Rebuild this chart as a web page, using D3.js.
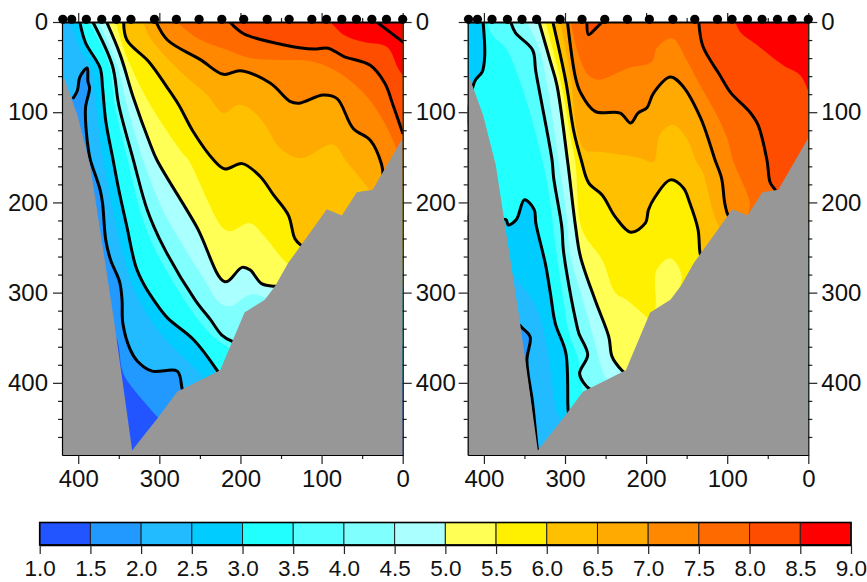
<!DOCTYPE html>
<html>
<head>
<meta charset="utf-8">
<script src="https://d3js.org/d3.v7.min.js"></script>
<style>
  body { margin: 0; background: #fff; }
  text { font-family: "Liberation Sans", Arial, sans-serif; fill: #111; }
</style>
</head>
<body>
<svg id="chart" width="867" height="582"></svg>
<script>
// colour classes of the section, shared by both panels and the bar
const bandEdges = [1.0, 1.5, 2.0, 2.5, 3.0, 3.5, 4.0, 4.5, 5.0, 5.5, 6.0, 6.5, 7.0, 7.5, 8.0, 8.5, 9.0];
const bandColors = ["#2255ff", "#2299ff", "#22bbff", "#00ccff", "#22ffff", "#55ffff", "#80ffff", "#aaffff",
  "#ffff55", "#fff000", "#ffc000", "#ffaa00", "#ff8800", "#ff6a00", "#ff4d00", "#ff0000"];

// stations along the section (km) and the sea floor (km, m)
const stations = [419, 408, 390, 371, 353, 335, 306, 279, 251, 223, 196, 167, 140, 112, 94, 75, 57, 38, 20, 0];
const seaFloor = [[420, 56], [401, 103], [385.5, 158], [356, 330], [333.5, 475], [325, 465], [302, 439], [278, 410],
  [225, 386], [195, 322], [170, 308], [157, 292.5], [141, 267], [93.5, 207.5], [75, 214.6], [56.6, 188.7], [37, 186], [0, 128.5]];

// left section, isolines as [km, m]
const left15 = [[360, 340], [352, 352], [346, 385], [340, 397], [302, 438], [295, 445]];
const left20 = [[406, 84], [401, 76], [398, 61], [389, 51], [388, 66], [386, 73], [391, 95], [390, 122], [387, 144], [385, 153], [373, 186], [370, 201], [366, 242], [360, 264], [349, 288], [346, 308], [345, 334], [336, 363], [327, 376], [309, 387], [278, 387], [272, 406], [270, 412]];
const left25 = [[409, 0], [400, 25], [384, 53], [379, 86], [373, 131], [365, 175], [355, 219], [343, 264], [331, 297], [311, 330], [286, 358], [249, 391], [245, 400]];
const left30 = [[398, 0], [391, 23], [373, 51], [370, 73], [366, 110], [357, 153], [350, 186], [340, 227], [329, 271], [319, 291], [307, 308], [290, 328], [258, 352], [229, 386], [225, 392]];
const left35 = [[387, 0], [372, 25], [361, 50], [355, 92], [339, 153], [324, 208], [307, 249], [281, 291], [252, 330], [232, 350], [212, 362]];
const left40 = [[382, 0], [358, 48], [350, 92], [332, 153], [315, 208], [295, 249], [256, 308], [237, 330], [223, 347], [210, 354], [200, 356]];
const left45 = [[375, 0], [352, 48], [340, 92], [320, 153], [296, 208], [270, 249], [245, 285], [225, 312], [212, 315], [188, 302], [168, 306], [160, 310]];
const left50 = [[365, 0], [348, 37], [332, 84], [311, 136], [303, 153], [254, 227], [219, 288], [198, 272], [188, 275], [174, 290], [157, 293], [150, 293]];
const left55 = [[354, 0], [341, 37], [311, 92], [270, 147], [264, 153], [223, 227], [213, 232], [188, 223], [172, 236], [143, 267], [135, 270]];
const left60 = [[344, 0], [340, 20], [313, 44], [290, 73], [276, 92], [258, 122], [233, 153], [219, 163], [198, 157], [176, 171], [159, 192], [141, 214], [133, 240], [126, 247], [120, 250]];
const left65 = [[320, 0], [311, 18], [274, 55], [241, 81], [221, 101], [204, 92], [192, 94], [172, 111], [151, 140], [126, 151], [86, 136], [69, 155], [43, 184], [38, 192]];
const left70 = [[304, 0], [290, 20], [249, 42], [221, 58], [200, 54], [163, 68], [139, 88], [128, 90], [98, 81], [81, 85], [61, 118], [40, 131], [26, 158], [24, 172]];
const left75 = [[278, 0], [253, 18], [216, 31], [188, 40], [151, 42], [110, 44], [77, 57], [49, 78], [28, 103], [12, 131], [6, 145]];
const left80 = [[213, 0], [196, 13], [143, 26], [110, 30], [92, 29], [73, 38], [40, 48], [22, 68], [12, 92], [0, 123]];
const left85 = [[89, 0], [73, 14], [49, 22], [19, 28], [6, 51], [0, 59]];
const left90 = [[32, 0], [0, 22]];

// right section, the 3.0 isoline passes under the slope between its two arms
const right20 = [[356, 336], [353, 339], [343, 349], [347, 375], [340, 422], [334, 474], [333, 478]];
const right25 = [[368, 276], [336, 315], [322, 363], [310, 432], [304, 442]];
const right30 = [[401, 0], [399, 37], [402, 55], [412, 67], [419, 219], [373, 219], [370, 225], [360, 219], [350, 197], [338, 208], [336, 223], [324, 269], [318, 301], [312, 334], [299, 367], [296, 432], [294, 440]];
const right35 = [[396, 0], [390, 14], [373, 29], [357, 62], [345, 95], [328, 153], [320, 189], [312, 245], [302, 308], [295, 345], [283, 375], [278, 410], [272, 412]];
const right40 = [[367, 0], [361, 12], [340, 31], [336, 55], [316, 153], [314, 173], [304, 227], [302, 253], [292, 308], [287, 330], [283, 345], [272, 369], [282, 390], [271, 406], [266, 408]];
const right45 = [[347, 0], [332, 29], [322, 70], [308, 153], [299, 208], [293, 260], [277, 311], [263, 356], [252, 391], [246, 398]];
const right50 = [[332, 0], [318, 44], [310, 70], [297, 153], [287, 227], [281, 260], [263, 308], [246, 349], [242, 371], [230, 386], [224, 390]];
const right55 = [[324, 0], [310, 48], [302, 81], [293, 129], [287, 158], [279, 230], [254, 264], [238, 300], [224, 308], [199, 328], [196, 332]];
const right55Patch = [[189, 325], [188, 311], [187, 275], [170, 262], [156, 282], [166, 308], [170, 315], [189, 325]];
const right60 = [[315, 0], [299, 66], [289, 122], [280, 153], [271, 178], [254, 192], [238, 216], [219, 233], [201, 223], [197, 208], [189, 194], [170, 175], [154, 184], [146, 201], [136, 230], [133, 258], [130, 262]];
const right65 = [[306, 0], [293, 62], [285, 121], [275, 142], [256, 144], [232, 147], [207, 151], [191, 155], [183, 125], [167, 114], [150, 129], [139, 153], [130, 167], [117, 212], [111, 225], [108, 232]];
const right70 = [[297, 0], [287, 62], [281, 78], [263, 99], [232, 101], [219, 112], [210, 101], [199, 95], [191, 79], [170, 61], [154, 72], [133, 106], [121, 136], [115, 153], [107, 173], [103, 201], [99, 214], [95, 218]];
const right75 = [[293, 0], [283, 37], [271, 59], [258, 64], [222, 51], [193, 44], [187, 29], [168, 18], [150, 42], [136, 66], [113, 103], [100, 129], [93, 153], [72, 201], [74, 214], [72, 220]];
const right80 = [[135, 0], [130, 27], [109, 59], [96, 78], [72, 100], [62, 114], [51, 153], [47, 178], [41, 186], [38, 192]];
const right80Top = [[273, 0], [271, 14], [262, 7], [254, 0]];
const right85 = [[90, 0], [84, 11], [64, 25], [31, 48], [10, 59], [0, 77]];

// paint order matters, each class covers the one before it
const leftBands = [[1.5, left15], [2.0, left20], [2.5, left25], [3.0, left30], [3.5, left35], [4.0, left40], [4.5, left45], [5.0, left50],
  [5.5, left55], [6.0, left60], [6.5, left65], [7.0, left70], [7.5, left75], [8.0, left80], [8.5, left85]];
const leftLines = [left20, left30, left40, left50, left60, left70, left80, left90];
const rightBands = [[2.0, right20], [2.5, right25], [3.0, right30], [3.5, right35], [4.0, right40], [4.5, right45], [5.0, right50],
  [5.5, right55], [5.0, right55Patch], [6.0, right60], [6.5, right65], [7.0, right70], [7.5, right75], [8.0, right80], [8.0, right80Top], [8.5, right85]];
const rightLines = [right20, right30, right40, right50, right60, right70, right80, right80Top];

const distMajor = [400, 300, 200, 100, 0];
const distMinor = [350, 250, 150, 50];
const depthMajor = [0, 100, 200, 300, 400];
const depthMinor = d3.range(20, 480, 20).filter((d) => d % 100 !== 0);

const svg = d3.select("#chart");
const axisFont = 24;
const barFont = 22.5;
const plotTop = 22;
const plotBottom = 455;
const y = d3.scaleLinear().domain([0, 480]).range([plotTop, plotBottom]);
const barColor = d3.scaleThreshold().domain(bandEdges.slice(1, -1)).range(bandColors);
const smooth = d3.line().curve(d3.curveCatmullRom.alpha(0.5));

// the part of a class boundary that runs along or behind the plot edges
const closingPoints = (pts) => {
  const first = pts[0];
  const last = pts[pts.length - 1];
  if (last[1] === 0 || (first[0] === last[0] && first[1] === last[1])) return [];
  const tail = [[0, last[1]], [0, 0]];
  if (first[1] > 0) tail.push([420, 0], [420, first[1]]);
  return tail;
};

const styleAxis = (g, width, size = axisFont) => {
  g.selectAll("path.domain").attr("stroke", "#000").attr("stroke-width", width);
  g.selectAll(".tick line").attr("stroke", "#222").attr("stroke-width", 1.2);
  g.selectAll("text").attr("font-size", size).attr("font-family", null);
};

const renderPanel = (name, x0, x1, baseColor, bands, lines, sideLabels) => {
  const x = d3.scaleLinear().domain([420, 0]).range([x0, x1]);
  const toPx = (pts) => pts.map((p) => [x(p[0]), y(p[1])]);
  svg.append("clipPath").attr("id", `clip-${name}`)
    .append("rect").attr("x", x0).attr("y", plotTop).attr("width", x1 - x0).attr("height", plotBottom - plotTop);
  const g = svg.append("g").attr("clip-path", `url(#clip-${name})`);

  g.append("rect").attr("x", x0).attr("y", plotTop).attr("width", x1 - x0).attr("height", plotBottom - plotTop)
    .attr("fill", baseColor);
  g.selectAll("path.band").data(bands).enter().append("path")
    .attr("class", "band")
    .attr("fill", (d) => barColor(d[0]))
    .attr("d", (d) => smooth(toPx(d[1])) + toPx(closingPoints(d[1])).map((p) => `L${p[0]},${p[1]}`).join("") + "Z");
  g.selectAll("path.contour").data(lines).enter().append("path")
    .attr("class", "contour")
    .attr("fill", "none")
    .attr("stroke", "#000")
    .attr("stroke-width", 3)
    .attr("stroke-linejoin", "round")
    .attr("stroke-linecap", "round")
    .attr("d", (d) => smooth(toPx(d)));
  g.append("path")
    .attr("fill", "#979797")
    .attr("d", d3.line()(toPx(seaFloor.concat([[0, 480], [420, 480]]))) + "Z");

  // minor ticks first, major axis on top
  const minorOf = (axis, values) => axis.tickValues(values).tickSize(4).tickFormat("");
  svg.append("g").attr("transform", `translate(0,${plotTop})`).call(minorOf(d3.axisTop(x), distMinor)).call(styleAxis, 0);
  svg.append("g").attr("transform", `translate(0,${plotBottom})`).call(minorOf(d3.axisBottom(x), distMinor)).call(styleAxis, 0);
  svg.append("g").attr("transform", `translate(${x0},0)`).call(minorOf(d3.axisLeft(y), depthMinor)).call(styleAxis, 0);
  svg.append("g").attr("transform", `translate(${x1},0)`).call(minorOf(d3.axisRight(y), depthMinor)).call(styleAxis, 0);

  svg.append("g").attr("transform", `translate(0,${plotTop})`)
    .call(d3.axisTop(x).tickValues(distMajor).tickSize(9).tickSizeOuter(0).tickFormat(""))
    .call(styleAxis, 2);
  svg.append("g").attr("transform", `translate(0,${plotBottom})`)
    .call(d3.axisBottom(x).tickValues(distMajor).tickSize(9).tickSizeOuter(0).tickPadding(6))
    .call(styleAxis, 1.2);
  svg.append("g").attr("transform", `translate(${x0},0)`)
    .call(d3.axisLeft(y).tickValues(depthMajor).tickSize(9).tickSizeOuter(0).tickPadding(5).tickFormat(sideLabels.left ? null : ""))
    .call(styleAxis, 1.2);
  svg.append("g").attr("transform", `translate(${x1},0)`)
    .call(d3.axisRight(y).tickValues(depthMajor).tickSize(9).tickSizeOuter(0).tickPadding(4))
    .call(styleAxis, 1.2);

  svg.append("g").selectAll("circle").data(stations).enter().append("circle")
    .attr("cx", (d) => x(d))
    .attr("cy", y(0) - 2.7)
    .attr("r", 4.6)
    .attr("fill", "#000");
};

renderPanel("left", 62, 402.7, bandColors[0], leftBands, leftLines, { left: true });
renderPanel("right", 467.7, 808.3, bandColors[1], rightBands, rightLines, { left: false });

// colour bar
const barX = d3.scaleLinear().domain([1, 9]).range([39.7, 851]);
const barTop = 522.5;
const barBottom = 545;
svg.append("g").selectAll("rect").data(bandColors).enter().append("rect")
  .attr("x", (d, i) => barX(bandEdges[i]))
  .attr("y", barTop)
  .attr("width", (d, i) => barX(bandEdges[i + 1]) - barX(bandEdges[i]))
  .attr("height", barBottom - barTop)
  .attr("fill", (d) => d)
  .attr("stroke", "#222")
  .attr("stroke-width", 1);
svg.append("rect")
  .attr("x", barX(1)).attr("y", barTop)
  .attr("width", barX(9) - barX(1)).attr("height", barBottom - barTop)
  .attr("fill", "none").attr("stroke", "#000").attr("stroke-width", 1.6);
svg.append("g").attr("transform", `translate(0,${barBottom})`)
  .call(d3.axisBottom(barX).tickValues(bandEdges).tickSize(9).tickSizeOuter(0).tickPadding(6).tickFormat(d3.format(".1f")))
  .call(styleAxis, 1.6, barFont);
</script>
</body>
</html>
